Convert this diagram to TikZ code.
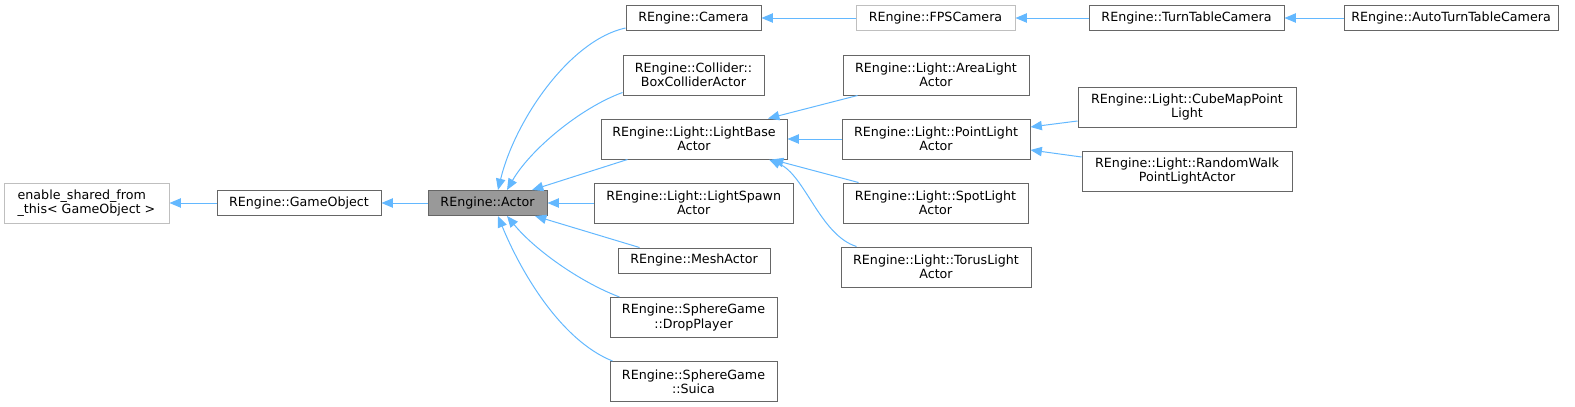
\documentclass[tikz,border=0pt]{standalone}
\usepackage{fontspec}
\setmainfont{DejaVu Sans}
\usetikzlibrary{arrows.meta,calc}
\definecolor{edgeblue}{HTML}{63B8FF}
\definecolor{boxgray}{HTML}{666666}
\definecolor{lightbox}{HTML}{BFBFBF}
\definecolor{actorfill}{HTML}{999999}
\begin{document}
\begin{tikzpicture}[x=0.75pt,y=-0.75pt,
  box/.style={draw=boxgray, line width=0.75pt, fill=white, inner sep=0pt, align=center,
    font=\fontsize{9.5}{10.7}\selectfont, anchor=center},
  ghost/.style={box, draw=lightbox},
  cur/.style={box, fill=actorfill},
  sz/.style 2 args={minimum width={#1*0.75pt}, minimum height={#2*0.75pt}},
  edge/.style={draw=edgeblue, line width=0.75pt, {Triangle[length=8.5pt,width=7pt,fill=edgeblue]}-}
]
\useasboundingbox (0,0) rectangle (1575,407);

% nodes
\node[ghost, sz={165}{40}, align=left] (esft) at (86.5,203) {enable\_shared\_from\\\_this< GameObject >};
\node[box, sz={164}{25}] (go) at (299,203) {REngine::GameObject};
\node[cur, sz={119}{25}] (actor) at (487.5,203) {REngine::Actor};

\node[box, sz={135}{25}] (cam) at (693.5,18) {REngine::Camera};
\node[ghost, sz={159}{25}] (fps) at (935.5,18) {REngine::FPSCamera};
\node[box, sz={195}{25}] (tt) at (1186.5,18) {REngine::TurnTableCamera};
\node[box, sz={214}{25}] (att) at (1451,18) {REngine::AutoTurnTableCamera};

\node[box, sz={141}{40}] (bca) at (693.5,75) {REngine::Collider::\\BoxColliderActor};
\node[box, sz={186}{40}] (lb) at (694,139) {REngine::Light::LightBase\\Actor};
\node[box, sz={199}{40}] (ls) at (693.7,203) {REngine::Light::LightSpawn\\Actor};
\node[box, sz={152}{25}] (mesh) at (694,260.5) {REngine::MeshActor};
\node[box, sz={167}{40}] (drop) at (693.5,317.5) {REngine::SphereGame\\::DropPlayer};
\node[box, sz={167}{40}] (suica) at (693.5,381.5) {REngine::SphereGame\\::Suica};

\node[box, sz={186}{40}] (area) at (936,75) {REngine::Light::AreaLight\\Actor};
\node[box, sz={188}{40}] (pl) at (936,139) {REngine::Light::PointLight\\Actor};
\node[box, sz={185}{40}] (spot) at (935.5,203) {REngine::Light::SpotLight\\Actor};
\node[box, sz={190}{40}] (torus) at (936,267) {REngine::Light::TorusLight\\Actor};

\node[box, sz={218}{40}] (cube) at (1187,107) {REngine::Light::CubeMapPoint\\Light};
\node[box, sz={210}{40}] (rw) at (1187,171) {REngine::Light::RandomWalk\\PointLightActor};

% edges (arrow at parent)
\draw[edge] (esft.east) -- (go.west);
\draw[edge] (go.east) -- (actor.west);

\draw[edge] ($(actor.north)+(10.5,0)$) .. controls (515,120) and (570,40) .. ($(cam.west)+(0,10)$);
\draw[edge] ($(actor.north)+(19.5,0)$) .. controls (530,150) and (580,108) .. ($(bca.south west)+(0,-3)$);
\draw[edge] ($(actor.north)+(44.5,0)$) -- ($(lb.south west)+(27,0)$);
\draw[edge] (actor.east) -- (ls.west);
\draw[edge] ($(actor.south)+(47.5,0)$) -- ($(mesh.north west)+(22,0)$);
\draw[edge] ($(actor.south)+(19.5,0)$) .. controls (535,250) and (580,282) .. ($(drop.north west)+(10,0)$);
\draw[edge] ($(actor.south)+(10.5,0)$) .. controls (520,270) and (560,340) .. ($(suica.north west)+(3,0)$);

\draw[edge] (cam.east) -- (fps.west);
\draw[edge] (fps.east) -- (tt.west);
\draw[edge] (tt.east) -- (att.west);

\draw[edge] ($(lb.north)+(74,0)$) -- ($(area.south west)+(15,0)$);
\draw[edge] (lb.east) -- (pl.west);
\draw[edge] ($(lb.south)+(78,0)$) -- ($(spot.north west)+(16,0)$);
\draw[edge] ($(lb.south)+(75,0)$) .. controls (805,175) and (820,235) .. ($(torus.north west)+(16,0)$);

\draw[edge] ($(pl.east)+(0,-12)$) -- ($(cube.west)+(0,14)$);
\draw[edge] ($(pl.east)+(0,11)$) -- ($(rw.west)+(0,-14)$);
\end{tikzpicture}
\end{document}
